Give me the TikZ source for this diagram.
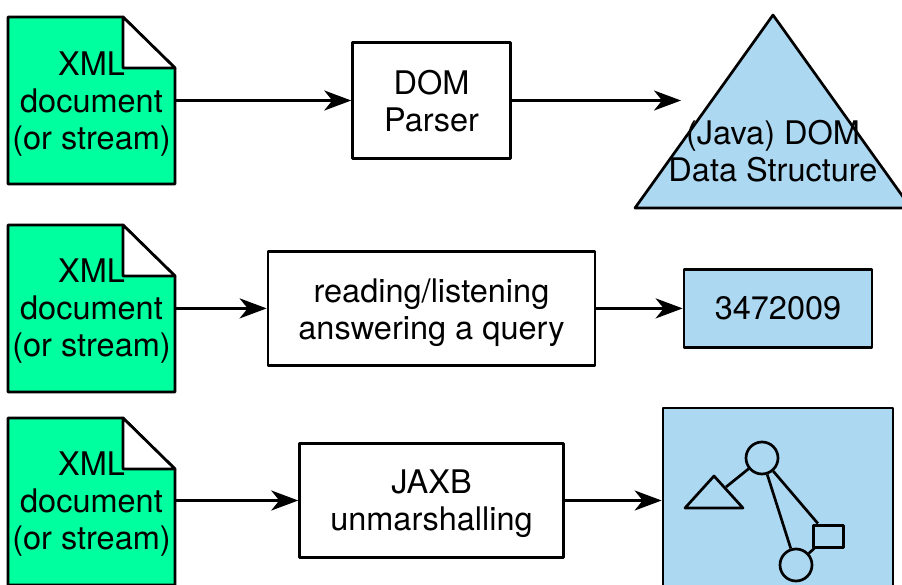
\documentclass[tikz,border=0pt]{standalone}
\usepackage{fontspec}
\setmainfont{TeX Gyre Heros}
\usetikzlibrary{arrows.meta}

\definecolor{docgreen}{HTML}{00FF9E}
\definecolor{structblue}{HTML}{ADD8F2}

\newcommand\toplift[1][32pt]{\rule{0pt}{#1}}
\newcommand\bottomlift{\rule[-7pt]{0pt}{7pt}}

\tikzset{
    every node/.style={font=\fontsize{32.5}{37}\selectfont, align=center},
    docbox/.style={inner sep=0, minimum width=167, minimum height=167},
    stepbox/.style={draw, fill=white, inner sep=0},
    valuebox/.style={draw, fill=structblue, inner sep=0},
    subcircle/.style={draw, circle, inner sep=0, minimum size=32},
    flow/.style={-{Stealth[length=27pt, width=20pt, inset=8pt]}},
}

\begin{document}
\begin{tikzpicture}[x=1pt, y=-1pt, line width=2.7pt, line join=round]
    \useasboundingbox (0, 0) rectangle (902, 585);

\newcommand\xmldoc[3]{
    \begin{scope}[shift={(0, #2)}]
        \draw[fill=docgreen] (8, 0) -- (123, 0) -- (175, 51) -- (175, 167) -- (8, 167) -- cycle;
        \draw[fill=white] (123, 0) -- (175, 51) -- (123, 51) -- cycle;
        \node[docbox] (#1) at (91.5, 83.5) {\toplift[#3]XML\\document\\(or stream)\bottomlift};
    \end{scope}
}

\xmldoc{doc1}{17}{32pt}
\xmldoc{doc2}{225}{29pt}
\xmldoc{doc3}{418}{28.5pt}

% first row
\node[stepbox, minimum width=157.8, minimum height=115.8] (parser) at (431.5, 100.5) {\toplift DOM\\Parser\bottomlift};
\draw[fill=structblue] (773, 15) -- (911, 208) -- (635, 208) -- cycle;
\node (domdata) at (773, 151) {(Java) DOM\\Data Structure};
\coordinate (domend) at (681, 100.5);
\draw[flow] (doc1) -- (parser);
\draw[flow] (parser) -- (domend);

% second row
\node[stepbox, minimum width=327, minimum height=114] (query) at (431.5, 308.4) {\toplift reading/listening\\answering a query\bottomlift};
\node[valuebox, minimum width=188, minimum height=78] (number) at (778, 308.4) {3472009};
\draw[flow] (doc2.east |- query) -- (query);
\draw[flow] (query) -- (number);

% third row
\node[stepbox, minimum width=263.8, minimum height=113.8] (jaxb) at (431.5, 500.5) {\toplift[30pt]JAXB\\unmarshalling\bottomlift};
\node[valuebox, minimum width=230, minimum height=185] (objects) at (778, 500.5) {};
\draw[flow] (doc3.east |- jaxb) -- (jaxb);
\draw[flow] (jaxb) -- (objects);

% object graph
\node[subcircle] (root) at (762, 458) {};
\node[subcircle] (leaf) at (796, 565) {};
\node[draw, line width=3pt, inner sep=0, minimum width=30, minimum height=22] (leafbox) at (828, 536) {};
\draw (714, 476) -- (743, 508) -- (685, 508) -- cycle;
\coordinate (subtree) at (726, 487);
\draw (root) -- (subtree);
\draw (root) -- (leaf);
\draw (root) -- (leafbox.129);
\draw (leaf) -- (leafbox.222);
\end{tikzpicture}
\end{document}
